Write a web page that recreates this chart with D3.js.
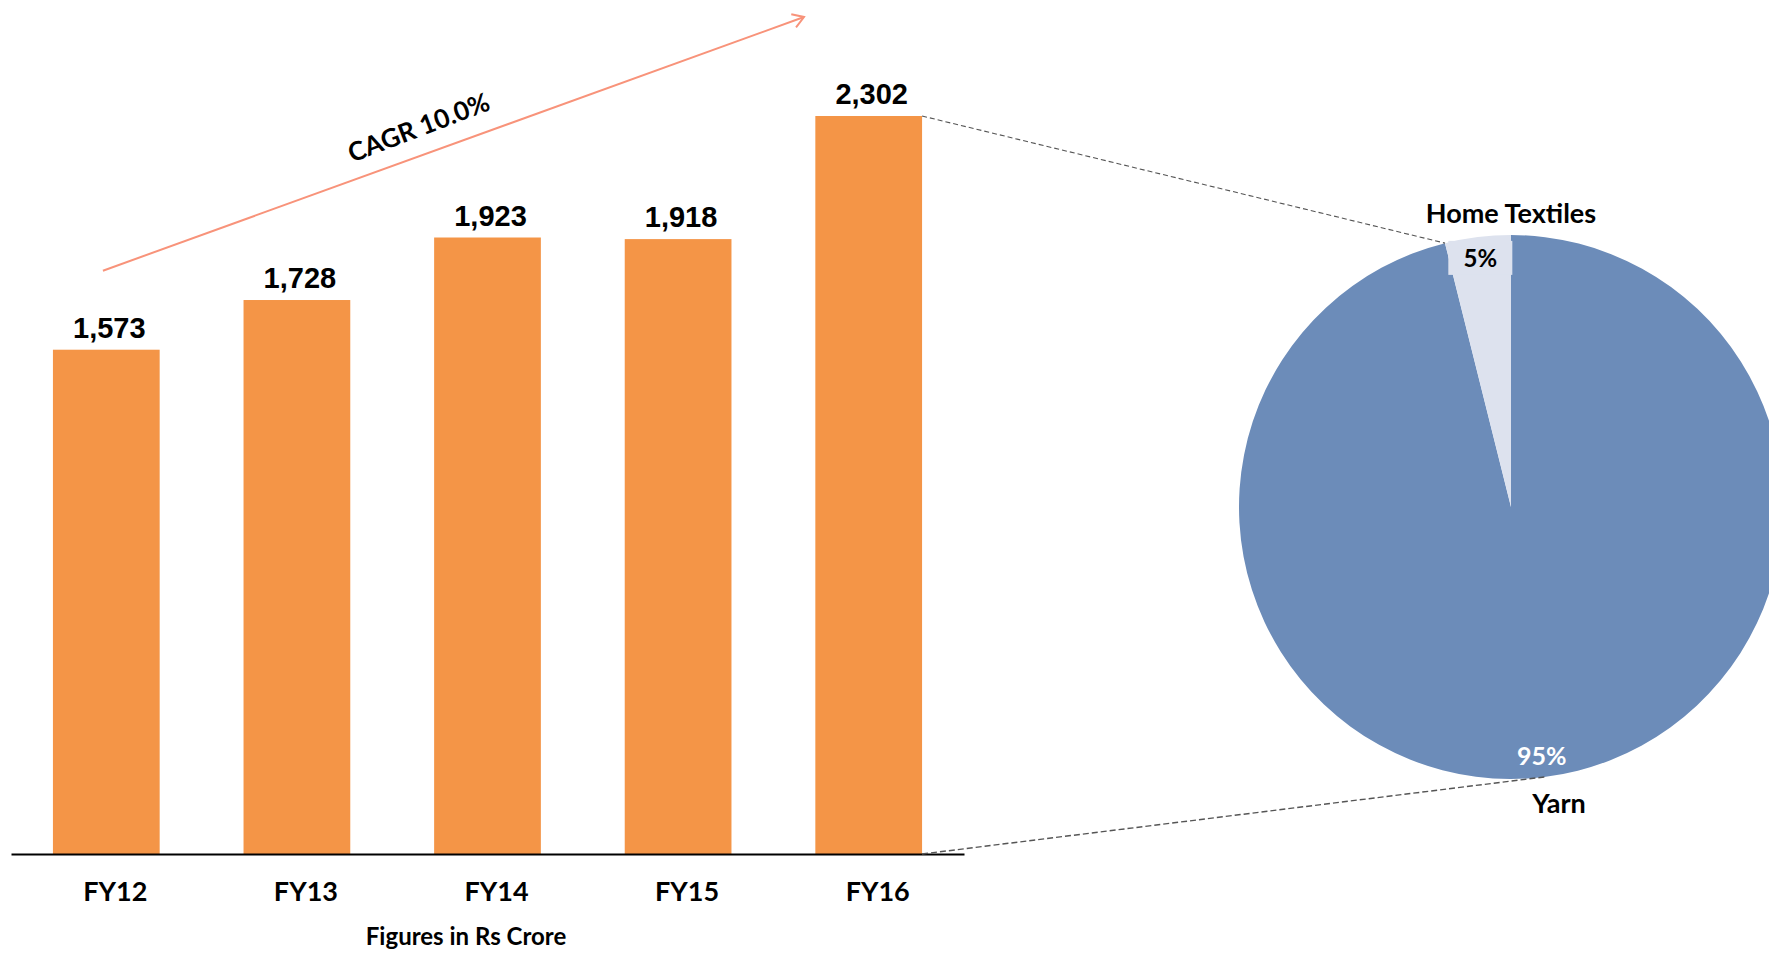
<!DOCTYPE html>
<html>
<head>
<meta charset="utf-8">
<script src="https://cdn.jsdelivr.net/npm/d3@7"></script>
<style>
  body { margin: 0; background: #fff; overflow: hidden; }
  text { font-family: Lato, 'Open Sans', sans-serif; font-weight: 700; }
</style>
</head>
<body>
<script>
const years = ['FY12', 'FY13', 'FY14', 'FY15', 'FY16']
const revenue = [1573, 1728, 1923, 1918, 2302]
const segments = ['Yarn', 'Home Textiles']
// slice shares, labels as printed
const segmentShare = [96.1, 3.9]
const segmentLabels = ['95%', '5%']
const cagrLabel = 'CAGR 10.0%'
const unitNote = 'Figures in Rs Crore'

const width = 1769
const height = 953
const barColor = '#F49547'
const pieColors = ['#6C8CB9', '#DDE2EE']

const svg = d3.select('body').append('svg')
  .attr('width', width)
  .attr('height', height)

const x = d3.scaleBand().domain(years).range([11, 964])
  .paddingInner(0.44).paddingOuter(0.22)
const y = d3.scaleLinear().domain([0, d3.max(revenue)]).range([854, 116])

// bars
svg.selectAll('rect.bar').data(revenue).enter().append('rect')
  .attr('class', 'bar')
  .attr('x', (d, i) => x(years[i]))
  .attr('y', d => y(d))
  .attr('width', x.bandwidth())
  .attr('height', d => y(0) - y(d))
  .attr('fill', barColor)

svg.selectAll('text.val').data(revenue).enter().append('text')
  .attr('class', 'val')
  .attr('x', (d, i) => x(years[i]) + x.bandwidth() / 2 + 3)
  .attr('y', d => y(d) - 12)
  .attr('text-anchor', 'middle')
  .style('font-family', "'Liberation Sans', Arial, sans-serif")
  .style('font-size', '29px')
  .text(d3.format(','))

// category axis
const axis = svg.append('g')
  .attr('transform', `translate(0,${y(0)})`)
  .call(d3.axisBottom(x).tickSize(0).tickPadding(28))
axis.select('.domain').attr('stroke', '#000').attr('stroke-width', 2)
axis.selectAll('text')
  .attr('dx', 9)
  .style('font-family', 'Lato, sans-serif')
  .style('font-size', '27px')
  .style('font-weight', 700)
  .attr('fill', '#000')

svg.append('text')
  .attr('x', 466).attr('y', 945)
  .attr('text-anchor', 'middle')
  .style('font-size', '24px')
  .text(unitNote)

// CAGR arrow
svg.append('defs').append('marker')
  .attr('id', 'arrow')
  .attr('viewBox', '-12 -8 14 16')
  .attr('markerWidth', 14).attr('markerHeight', 16)
  .attr('markerUnits', 'userSpaceOnUse')
  .attr('orient', 'auto')
  .append('path')
  .attr('d', 'M-11,-7L0,0L-11,7')
  .attr('fill', 'none')
  .attr('stroke', '#F8937A')
  .attr('stroke-width', 2)

const arrowStart = [x(years[0]) + 50, y(revenue[0]) - 79]
const arrowEnd = [804, 17]
svg.append('line')
  .attr('x1', arrowStart[0]).attr('y1', arrowStart[1])
  .attr('x2', arrowEnd[0]).attr('y2', arrowEnd[1])
  .attr('stroke', '#F8937A')
  .attr('stroke-width', 2)
  .attr('marker-end', 'url(#arrow)')

const ang = Math.atan2(arrowEnd[1] - arrowStart[1], arrowEnd[0] - arrowStart[0]) * 180 / Math.PI
svg.append('text')
  .attr('transform', `translate(422,136) rotate(${ang - 1})`)
  .attr('text-anchor', 'middle')
  .style('font-size', '26px')
  .text(cagrLabel)

// pie
const cx = 1511
const cy = 507
const r = 272
const pie = d3.pie().value(d => d).sort(null)
const arcs = pie(segmentShare)
const arc = d3.arc().innerRadius(0).outerRadius(r)
const labelArc = d3.arc().innerRadius(251).outerRadius(251)

const pg = svg.append('g').attr('transform', `translate(${cx},${cy})`)
pg.selectAll('path').data(arcs).enter().append('path')
  .attr('d', arc)
  .attr('fill', (d, i) => pieColors[i])

// label box for the small slice
const small = arcs[1]
const sc = labelArc.centroid(small)
pg.append('rect')
  .attr('x', sc[0] - 32).attr('y', sc[1] - 17)
  .attr('width', 64).attr('height', 34)
  .attr('fill', pieColors[1])

pg.selectAll('text.pct').data(arcs).enter().append('text')
  .attr('class', 'pct')
  .attr('transform', d => `translate(${labelArc.centroid(d)})`)
  .attr('dy', '0.36em')
  .attr('text-anchor', 'middle')
  .style('font-size', (d, i) => i === 0 ? '25px' : '24px')
  .attr('fill', (d, i) => i === 0 ? '#fff' : '#000')
  .text((d, i) => segmentLabels[i])

pg.append('text')
  .attr('x', 0).attr('y', -r - 12)
  .attr('text-anchor', 'middle')
  .style('font-size', '27px')
  .text(segments[1])
pg.append('text')
  .attr('x', 48).attr('y', r + 34)
  .attr('text-anchor', 'middle')
  .style('font-size', '27px')
  .text(segments[0])

// connector lines from the FY16 bar to the pie
const last = years[years.length - 1]
const bx = x(last) + x.bandwidth()
const rimPoint = a => [cx + r * Math.sin(a), cy - r * Math.cos(a)]
const topPt = rimPoint(small.startAngle)
const bottomPt = rimPoint(172.8 * Math.PI / 180)
svg.append('line')
  .attr('x1', bx).attr('y1', y(d3.max(revenue)))
  .attr('x2', topPt[0]).attr('y2', topPt[1])
  .attr('stroke', '#555').attr('stroke-width', 1.1)
  .attr('stroke-dasharray', '5,3')
svg.append('line')
  .attr('x1', bx).attr('y1', y(0))
  .attr('x2', bottomPt[0]).attr('y2', bottomPt[1])
  .attr('stroke', '#555').attr('stroke-width', 1.4)
  .attr('stroke-dasharray', '6,3')
</script>
</body>
</html>
